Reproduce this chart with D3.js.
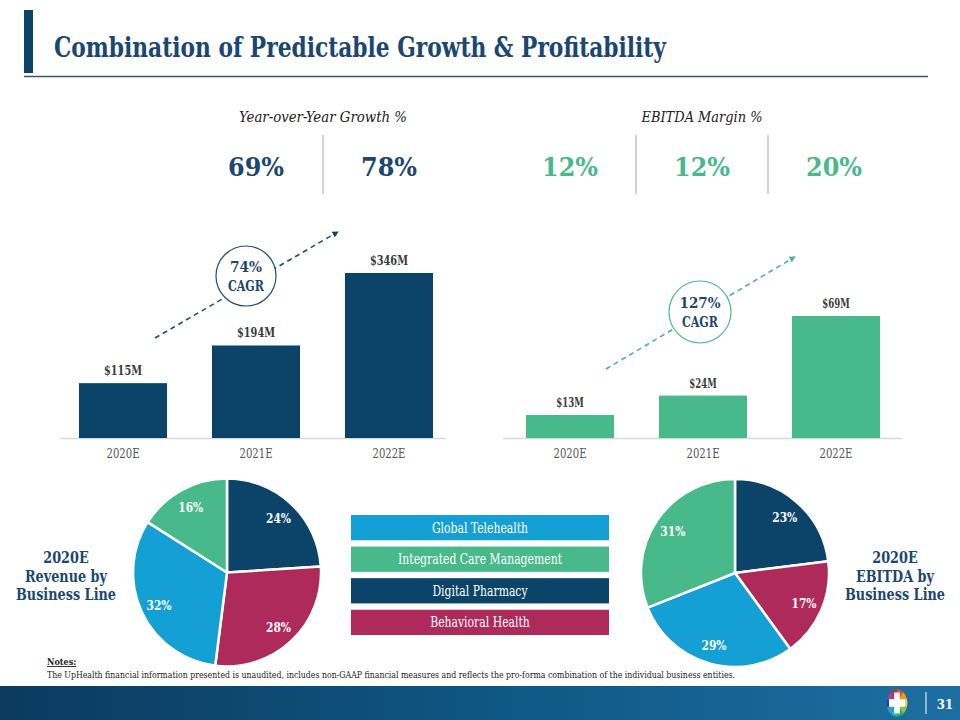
<!DOCTYPE html>
<html><head><meta charset="utf-8">
<script src="https://cdn.jsdelivr.net/npm/d3@7/dist/d3.min.js"></script>
<style>
html,body{margin:0;padding:0;background:#fff;}
svg{display:block;}
text{font-family:"DejaVu Serif Condensed","DejaVu Serif",serif;font-stretch:condensed;}
</style></head>
<body>
<svg id="c" width="960" height="720"></svg>
<script>
// ---- data ----
const title = "Combination of Predictable Growth & Profitability";
const years = ["2020E","2021E","2022E"];
const revenue = [115,194,346];
const ebitda = [13,24,69];
const yoyGrowth = [69,78];
const ebitdaMargin = [12,12,20];
const revenueCAGR = 74;
const ebitdaCAGR = 127;
const pieLines = ["Digital Pharmacy","Behavioral Health","Global Telehealth","Integrated Care Management"];
const revenueMix = [24,28,32,16];
const ebitdaMix = [23,17,29,31];
const legendLines = ["Global Telehealth","Integrated Care Management","Digital Pharmacy","Behavioral Health"];
const notesTitle = "Notes:";
const notesText = "The UpHealth financial information presented is unaudited, includes non-GAAP financial measures and reflects the pro-forma combination of the individual business entities.";
const pageNumber = "31";

const NAVY="#0b4468", GREEN="#48b98a", MAROON="#ad2a5a", BLUE="#14a0d4", TNAVY="#1b4770";
const lineColor = d3.scaleOrdinal().domain(pieLines).range([NAVY,MAROON,BLUE,GREEN]);

const svg = d3.select("#c");
// compress a group of texts so that its reference node has the target width
function fit(sel, target, refIdx){
  const nodes = sel.nodes();
  const f = target / nodes[refIdx||0].getComputedTextLength();
  nodes.forEach(n=>{
    const w = n.getComputedTextLength();
    d3.select(n).attr("textLength", w*f).attr("lengthAdjust","spacingAndGlyphs");
  });
  return sel;
}

// ---- header ----
svg.append("rect").attr("x",24).attr("y",10).attr("width",9).attr("height",63).attr("fill",NAVY);
svg.append("text").attr("x",54).attr("y",57).attr("font-size",27).attr("font-weight","bold")
  .attr("fill",TNAVY).text(title).attr("textLength",612).attr("lengthAdjust","spacingAndGlyphs");
svg.append("line").attr("x1",24).attr("x2",928).attr("y1",76.5).attr("y2",76.5)
  .attr("stroke","#3d5670").attr("stroke-width",1.3);

// ---- KPIs ----
fit(svg.append("text").attr("x",323).attr("y",122).attr("text-anchor","middle").attr("font-style","italic")
  .attr("font-size",15).attr("fill","#222").text("Year-over-Year Growth %"),168);
fit(svg.append("text").attr("x",702).attr("y",122).attr("text-anchor","middle").attr("font-style","italic")
  .attr("font-size",15).attr("fill","#222").text("EBITDA Margin %"),121);
const yoyX=[256,389], marX=[570,702,834];
fit(svg.selectAll(".yoy").data(yoyGrowth).join("text").attr("class","yoy")
  .attr("x",(d,i)=>yoyX[i]).attr("y",176).attr("text-anchor","middle").attr("font-size",25.5)
  .attr("font-weight","bold").attr("fill",TNAVY).text(d=>d+"%"),56);
fit(svg.selectAll(".mar").data(ebitdaMargin).join("text").attr("class","mar")
  .attr("x",(d,i)=>marX[i]).attr("y",176).attr("text-anchor","middle").attr("font-size",25.5)
  .attr("font-weight","bold").attr("fill",GREEN).text(d=>d+"%"),56);
[323,636,768].forEach(x=>svg.append("line").attr("x1",x).attr("x2",x).attr("y1",135).attr("y2",194)
  .attr("stroke","#b5b5b5").attr("stroke-width",1.2));

// ---- bar charts ----
const base = 438;
function barChart(vals, color, x0, x1, topPx, axis0, axis1){
  const x = d3.scaleBand().domain(years).range([x0,x1]).paddingInner(0.338).paddingOuter(0);
  const y = d3.scaleLinear().domain([0,d3.max(vals)]).range([base, base-topPx]);
  const g = svg.append("g");
  g.append("line").attr("x1",axis0).attr("x2",axis1).attr("y1",base+0.5).attr("y2",base+0.5)
    .attr("stroke","#d9d9d9").attr("stroke-width",1.5);
  g.selectAll("rect").data(vals).join("rect").attr("x",(d,i)=>x(years[i])).attr("width",x.bandwidth())
    .attr("y",d=>y(d)).attr("height",d=>base-y(d)).attr("fill",color);
  const vl = g.selectAll(".vl").data(vals).join("text").attr("class","vl")
    .attr("x",(d,i)=>x(years[i])+x.bandwidth()/2).attr("y",d=>y(d)-8).attr("text-anchor","middle")
    .attr("font-size",13.5).attr("font-weight","bold").attr("fill","#3b3b3b").text(d=>"$"+d+"M");
  const ax = d3.axisBottom(x).tickSize(0).tickPadding(0);
  const ag = g.append("g").attr("transform",`translate(0,${base+20})`).call(ax);
  ag.select(".domain").remove();
  ag.selectAll("text").attr("font-size",13.5).attr("fill","#555").attr("dy",0)
    .style("font-family",'"DejaVu Serif Condensed","DejaVu Serif",serif').style("font-stretch","condensed");
  return {vl, ticks: ag.selectAll("text")};
}
const b1 = barChart(revenue, NAVY, 79, 433, 165, 60, 446);
const b2 = barChart(ebitda, GREEN, 526, 880, 122, 503, 902);
fit(b1.vl, 38, 0); fit(b2.vl, 38*0.72, 0);
fit(b1.ticks, 33, 0); fit(b2.ticks, 33, 0);

// ---- CAGR arrows ----
const defs = svg.append("defs");
function marker(id,color){
  defs.append("marker").attr("id",id).attr("viewBox","0 0 10 10").attr("refX",5).attr("refY",5)
    .attr("markerWidth",4).attr("markerHeight",4).attr("orient","auto")
    .append("path").attr("d","M0,0L10,5L0,10z").attr("fill",color);
}
marker("mn",NAVY); marker("mg",GREEN);
function cagr(p0,p1,c,r,color,mk,val){
  svg.append("line").attr("x1",p0[0]).attr("y1",p0[1]).attr("x2",p1[0]).attr("y2",p1[1])
    .attr("stroke",color).attr("stroke-width",1.6).attr("stroke-dasharray","5,4")
    .attr("marker-end",`url(#${mk})`);
  svg.append("circle").attr("cx",c[0]).attr("cy",c[1]).attr("r",r).attr("fill","#fff")
    .attr("stroke",color).attr("stroke-width",1.2);
  const t1 = svg.append("text").attr("x",c[0]).attr("y",c[1]-4).attr("text-anchor","middle").attr("font-size",15.5)
    .attr("font-weight","bold").attr("fill",TNAVY).text(val+"%");
  const t2 = svg.append("text").attr("x",c[0]).attr("y",c[1]+15).attr("text-anchor","middle").attr("font-size",14.5)
    .attr("font-weight","bold").attr("fill",TNAVY).text("CAGR");
  fit(t2,36);
  return t1;
}
fit(cagr([155,338],[336,233],[246,276],30,"#1f4e79","mn",revenueCAGR),32);
fit(cagr([606,369],[793,258],[700,312],31,GREEN,"mg",ebitdaCAGR),41);

// ---- pies ----
const pie = d3.pie().sort(null).value(d=>d);
function pieChart(vals, cx, cy, r){
  const g = svg.append("g").attr("transform",`translate(${cx},${cy})`);
  const arc = d3.arc().innerRadius(0).outerRadius(r);
  const la = d3.arc().innerRadius(r*0.8).outerRadius(r*0.8);
  const arcs = pie(vals);
  g.selectAll("path").data(arcs).join("path").attr("d",arc).attr("fill",(d,i)=>lineColor(pieLines[i]))
    .attr("stroke","#fff").attr("stroke-width",2.5).attr("stroke-linejoin","round");
  fit(g.selectAll("text").data(arcs).join("text").attr("transform",d=>`translate(${la.centroid(d)})`)
    .attr("text-anchor","middle").attr("dy","0.38em").attr("font-size",13.5).attr("font-weight","bold")
    .attr("fill","#fff").text(d=>d.data+"%"),25);
}
pieChart(revenueMix, 227, 572.5, 94);
pieChart(ebitdaMix, 735, 573, 94);

function pieTitle(lines, cx){
  const g = svg.append("g");
  fit(g.selectAll("text").data(lines).join("text").attr("x",cx).attr("y",(d,i)=>563+i*18.5)
    .attr("text-anchor","middle").attr("font-size",16.5).attr("font-weight","bold").attr("fill",TNAVY)
    .text(d=>d), 100, 2);
}
pieTitle(["2020E","Revenue by","Business Line"], 66);
pieTitle(["2020E","EBITDA by","Business Line"], 895);

// ---- legend ----
const ly = d3.scaleBand().domain(legendLines).range([515,635]).paddingInner(0.2).paddingOuter(0);
const lg = svg.append("g");
lg.selectAll("rect").data(legendLines).join("rect").attr("x",351).attr("width",258)
  .attr("y",d=>ly(d)).attr("height",ly.bandwidth()).attr("fill",d=>lineColor(d));
fit(lg.selectAll("text").data(legendLines).join("text").attr("x",480).attr("y",d=>ly(d)+ly.bandwidth()/2)
  .attr("dy","0.36em").attr("text-anchor","middle").attr("font-size",14).attr("fill","#fff").text(d=>d),164,1);

// ---- notes ----
svg.append("text").attr("x",47).attr("y",665).attr("font-size",9).attr("font-weight","bold")
  .attr("fill","#222").attr("text-decoration","underline").text(notesTitle);
svg.append("text").attr("x",47).attr("y",678).attr("font-size",9).attr("fill","#222").text(notesText)
  .attr("textLength",688).attr("lengthAdjust","spacingAndGlyphs");

// ---- footer ----
const grad = defs.append("linearGradient").attr("id","fg").attr("x1","0").attr("x2","1").attr("y1","0").attr("y2","0");
grad.append("stop").attr("offset","0").attr("stop-color","#0c3a5e");
grad.append("stop").attr("offset","0.5").attr("stop-color","#0f5683");
grad.append("stop").attr("offset","1").attr("stop-color","#1d6fa2");
svg.append("rect").attr("x",0).attr("y",686).attr("width",960).attr("height",34).attr("fill","url(#fg)");
const logo = svg.append("g").attr("transform","translate(897,703) scale(0.8,1.05)");
const segCols = ["#e84c3d","#f39c12","#f4d03f","#8bc34a","#27ae60","#1abc9c","#3498db","#2c3e90","#8e44ad","#c0392b"];
const lp = d3.pie().sort(null).value(1)(segCols);
logo.selectAll("path").data(lp).join("path").attr("d",d3.arc().innerRadius(0).outerRadius(13)).attr("fill",(d,i)=>segCols[i]);
logo.append("path").attr("d","M-3.5,-10H3.5V-3.5H10V3.5H3.5V10H-3.5V3.5H-10V-3.5H-3.5Z").attr("fill","#fff");
svg.append("line").attr("x1",926).attr("x2",926).attr("y1",692).attr("y2",714).attr("stroke","#fff").attr("stroke-width",1);
svg.append("text").attr("x",945).attr("y",709).attr("text-anchor","middle").attr("font-size",13)
  .attr("font-weight","bold").attr("fill","#fff").text(pageNumber);
</script>
</body></html>
